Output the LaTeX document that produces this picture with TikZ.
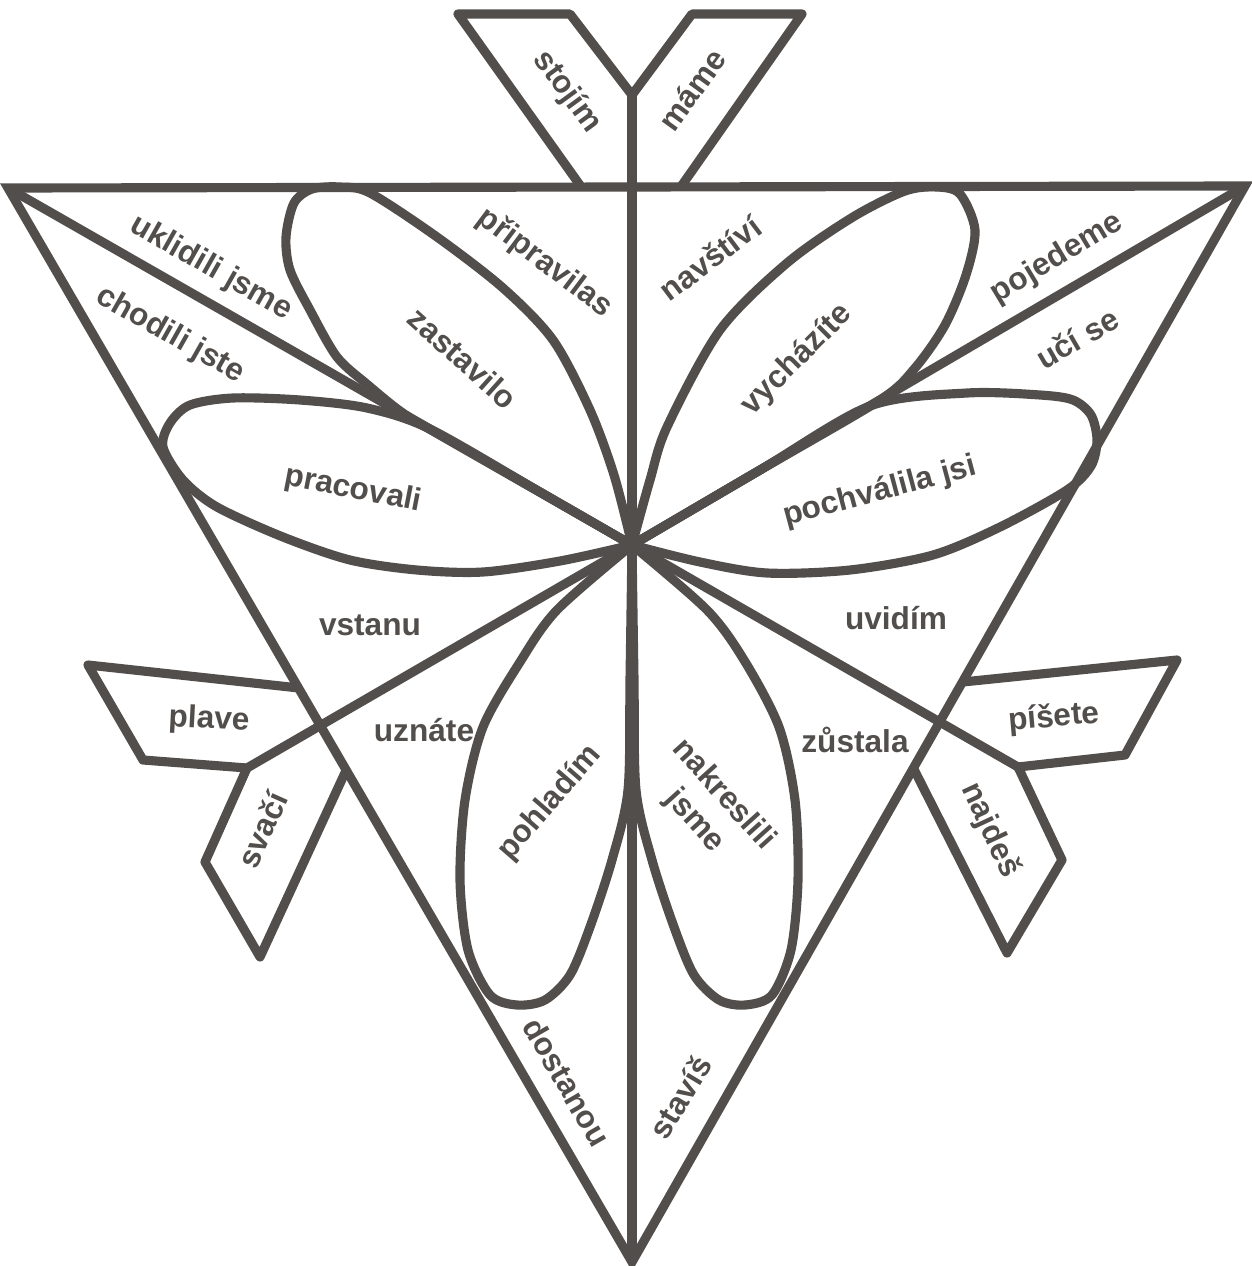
\documentclass[tikz,border=0pt]{standalone}
\usepackage{fontspec}
\setmainfont{Liberation Sans}
\usetikzlibrary{calc}
\definecolor{ink}{RGB}{82,78,76}

\begin{document}
\begin{tikzpicture}[x=0.1mm, y=-0.1mm, color=ink, line width=2.6pt, line join=round,
	word/.style={font=\bfseries\fontsize{9}{11}\selectfont, inner sep=0pt}]
	% parametry
	\def\W{1252} % sirka obrazku
	\def\H{1266} % vyska obrazku
	\useasboundingbox (0,0) rectangle (\W,\H);

	% hlavni body
	\coordinate (c) at (632,545);
	\coordinate (tl) at (8,188);
	\coordinate (tr) at (1245,186);
	\coordinate (bot) at (632,1262);
	\coordinate (fork) at (632,95);
	\coordinate (jl) at (247,768);
	\coordinate (jr) at (1018,767);

	% trojuhelnik a osy
	\draw[line join=miter] (tl) -- (tr) -- (bot) -- cycle;
	\draw (fork) -- (bot);
	\draw (tl) -- (c);
	\draw (tr) -- (c);
	\draw (c) -- (jl);
	\draw (c) -- (jr);

	% vlajky
	\draw (582,188) -- (458,14) -- (570,14) -- (fork) -- (692,14) -- (802,14) -- (680,188);
	\draw ($(tl)!0.4655!(bot)$) -- (88,665) -- (143,760) -- (jl) -- (205,862) -- (260,957) -- ($(tl)!0.542!(bot)$);
	\draw ($(tr)!0.461!(bot)$) -- (1177,660) -- (1125,755) -- (jr) -- (1062,860) -- (1007,953) -- ($(tr)!0.541!(bot)$);

	% okvetni listky
	\draw plot[smooth] coordinates {(632,545) (540,492) (430,429) (400,411) (368,385) (337,357) (310,310) (290,270) (286,237) (294,203) (312,189) (340,187) (370,193) (437,237) (503,288) (553,340) (590,410) (614,475) (632,545)};
	\draw plot[smooth] coordinates {(632,545) (650,480) (667,427) (720,330) (787,263) (853,217) (905,191) (937,187) (960,194) (975,230) (966,275) (945,325) (915,368) (880,400) (760,470) (632,545)};
	\draw plot[smooth] coordinates {(632,545) (760,470) (870,406) (967,393) (1040,395) (1073,400) (1091,415) (1097,440) (1091,466) (1067,490) (1000,527) (933,555) (850,570) (767,573) (700,562) (632,545)};
	\draw plot[smooth] coordinates {(632,545) (540,492) (430,429) (367,408) (300,400) (233,398) (190,405) (170,423) (163,447) (183,480) (217,507) (283,537) (350,560) (417,570) (483,572) (560,561) (632,545)};
	\draw plot[smooth] coordinates {(632,545) (557,610) (520,662) (483,727) (465,800) (460,880) (468,950) (490,995) (517,1005) (545,1000) (570,975) (590,927) (612,860) (628,790) (630,680) (632,545)};
	\draw plot[smooth] coordinates {(632,545) (634,680) (636,790) (652,860) (674,927) (694,975) (719,1000) (745,1005) (772,995) (791,950) (798,880) (795,800) (779,727) (744,660) (707,610) (632,545)};

	% slova
	\node[word, rotate=-54] (stojim) at (567,92) {stojím};
	\node[word, rotate=54] (mame) at (692,90) {máme};
	\node[word, rotate=-29.5] (uklidili) at (211,268) {uklidili jsme};
	\node[word, rotate=-29.5] (chodili) at (170,335) {chodili jste};
	\node[word, rotate=-37] (pripravilas) at (545,263) {připravilas};
	\node[word, rotate=-42] (zastavilo) at (463,358) {zastavilo};
	\node[word, rotate=37] (navstivi) at (710,258) {navštíví};
	\node[word, rotate=45] (vychazite) at (797,360) {vycházíte};
	\node[word, rotate=31] (pojedeme) at (1057,258) {pojedeme};
	\node[word, rotate=30] (ucise) at (1077,338) {učí se};
	\node[word, rotate=-11] (pracovali) at (353,490) {pracovali};
	\node[word, rotate=15] (pochvalila) at (880,492) {pochválila jsi};
	\node[word] (vstanu) at (370,625) {vstanu};
	\node[word] (uznate) at (424,730) {uznáte};
	\node[word] (uvidim) at (896,618) {uvidím};
	\node[word] (zustala) at (855,740) {zůstala};
	\node[word, rotate=-3] (plave) at (209,720) {plave};
	\node[word, rotate=66] (svaci) at (262,830) {svačí};
	\node[word, rotate=5] (pisete) at (1054,718) {píšete};
	\node[word, rotate=-65] (najdes) at (990,830) {najdeš};
	\node[word, rotate=49] (pohladim) at (550,803) {pohladím};
	\node[word, rotate=-48, align=center] (nakreslili) at (709,808) {nakreslili\\jsme};
	\node[word, rotate=-60] (dostanou) at (567,1082) {dostanou};
	\node[word, rotate=59] (stavis) at (680,1097) {stavíš};
\end{tikzpicture}
\end{document}
